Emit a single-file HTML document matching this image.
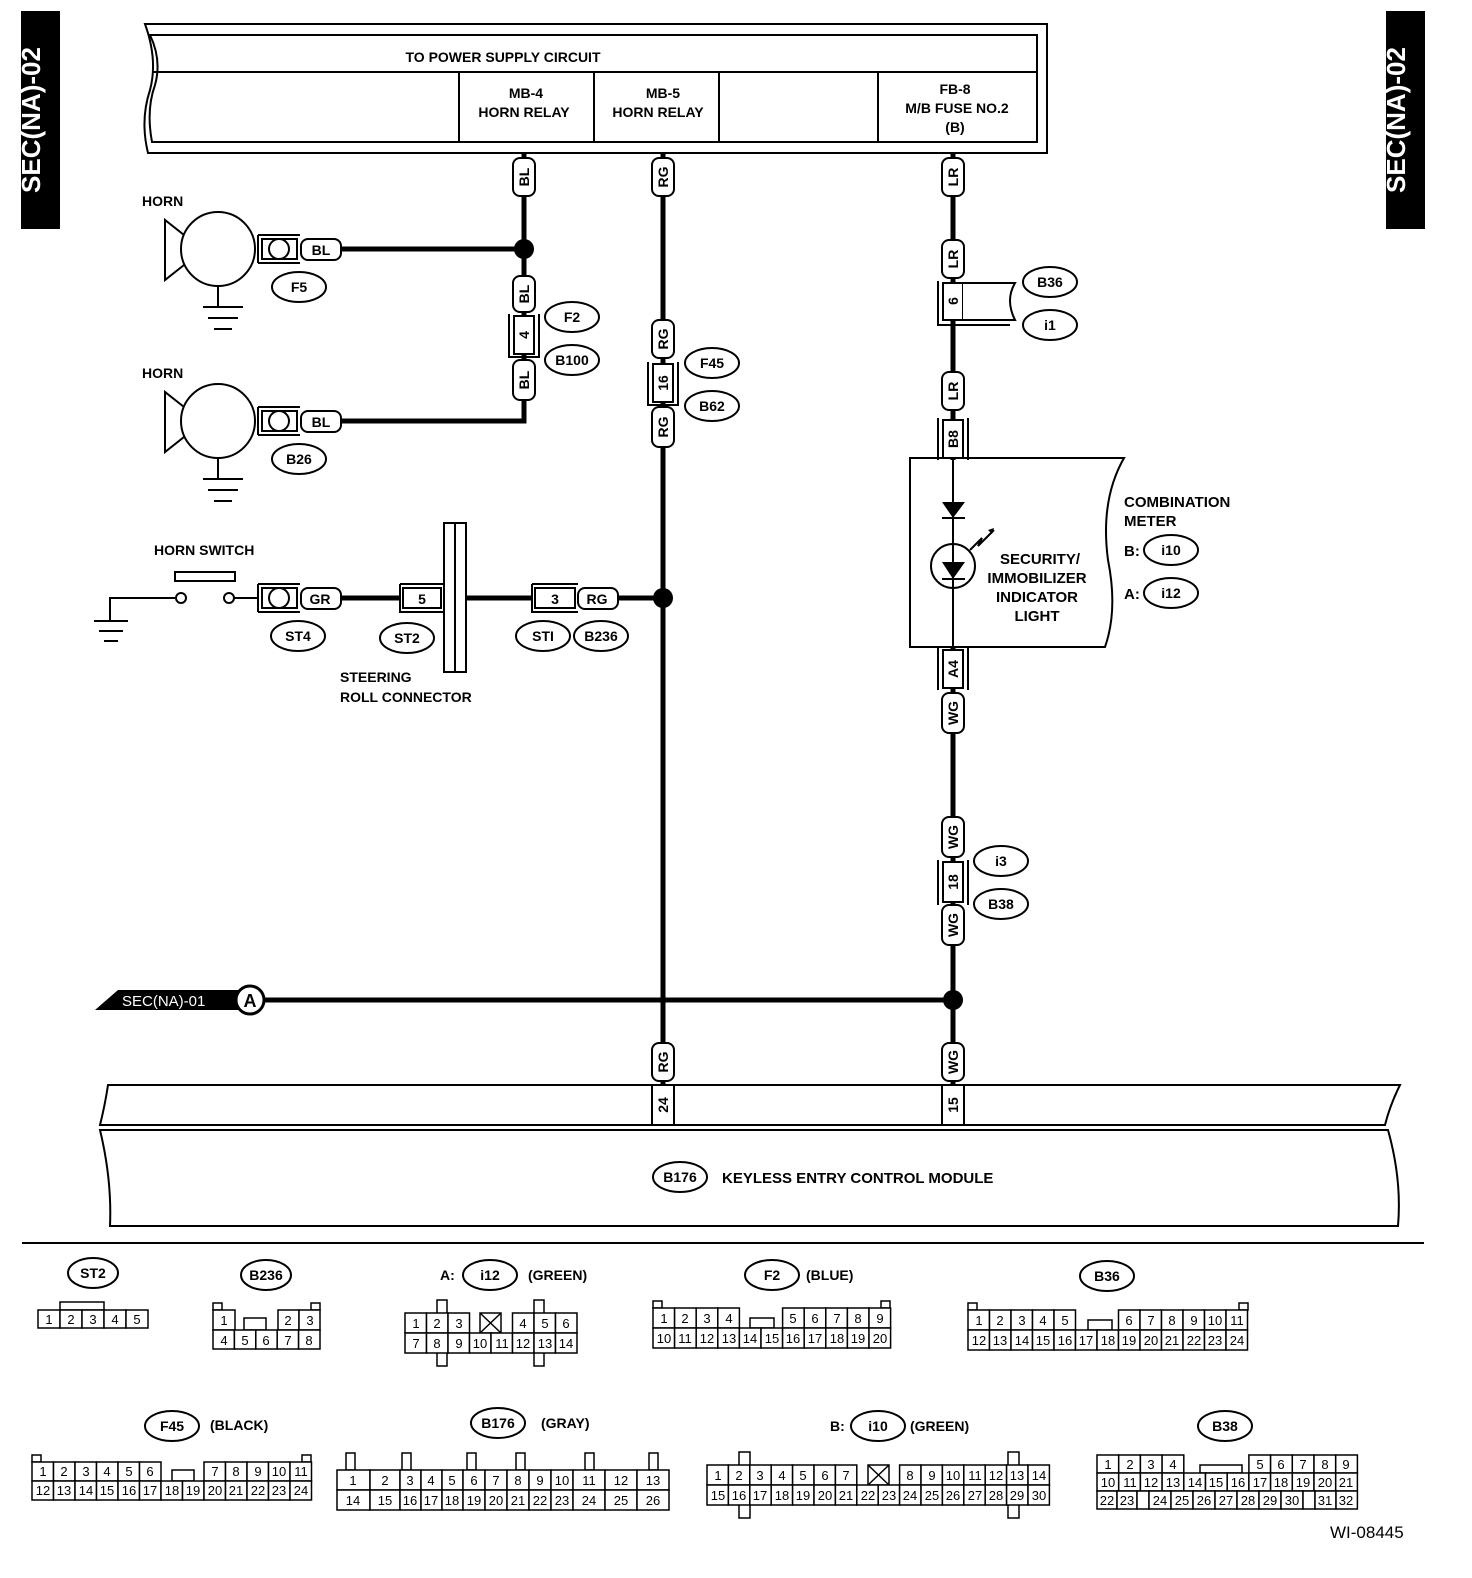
<!DOCTYPE html>
<html><head><meta charset="utf-8"><style>
html,body{margin:0;padding:0;background:#fff}
svg{display:block}
text{font-family:"Liberation Sans",sans-serif;font-weight:bold;fill:#000}
.n{font-weight:normal;font-size:13px;text-anchor:middle}
.c{text-anchor:middle}
</style></head><body>
<svg width="1472" height="1578" viewBox="0 0 1472 1578" xmlns="http://www.w3.org/2000/svg">
<g fill="none" stroke="#000" stroke-width="2">
<!-- side bars -->
<rect x="22" y="12" width="37" height="216" fill="#000"/>
<rect x="1387" y="12" width="37" height="216" fill="#000"/>
<!-- top box -->
<path d="M145,24 H1047 V153 H148 Q140,120 150,90 Q158,60 145,24 Z"/>
<path d="M150,35 H1037 V142 H152 Q146,110 155,85 Q162,60 150,35 Z"/>
<line x1="153" y1="72" x2="1037" y2="72"/>
<line x1="459" y1="72" x2="459" y2="142"/>
<line x1="594" y1="72" x2="594" y2="142"/>
<line x1="719" y1="72" x2="719" y2="142"/>
<line x1="878" y1="72" x2="878" y2="142"/>
</g>
<text x="40" y="120" font-size="26" transform="rotate(-90 40 120)" text-anchor="middle" style="fill:#fff">SEC(NA)-02</text>
<text x="1405" y="120" font-size="26" transform="rotate(-90 1405 120)" text-anchor="middle" style="fill:#fff">SEC(NA)-02</text>
<g font-size="14">
<text x="503" y="62" class="c">TO POWER SUPPLY CIRCUIT</text>
<text x="526" y="98" class="c">MB-4</text><text x="524" y="117" class="c">HORN RELAY</text>
<text x="663" y="98" class="c">MB-5</text><text x="658" y="117" class="c">HORN RELAY</text>
<text x="955" y="94" class="c">FB-8</text><text x="957" y="113" class="c">M/B FUSE NO.2</text><text x="955" y="132" class="c">(B)</text>
</g>

<!-- wires -->
<g stroke="#000" stroke-width="5" fill="none">
<line x1="524" y1="153" x2="524" y2="400"/>
<path d="M340,249 H524"/>
<path d="M340,421 H524 V395"/>
<line x1="663" y1="153" x2="663" y2="1085"/>
<line x1="953" y1="153" x2="953" y2="460"/>
<line x1="953" y1="647" x2="953" y2="1085"/>
<line x1="340" y1="598" x2="400" y2="598"/>
<line x1="466" y1="598" x2="532" y2="598"/>
<line x1="618" y1="598" x2="663" y2="598"/>
<line x1="240" y1="1000" x2="953" y2="1000"/>
</g>
<g fill="#000">
<circle cx="524" cy="249" r="10"/><circle cx="663" cy="598" r="10"/><circle cx="953" cy="1000" r="10"/>
</g>

<!-- vertical pills -->
<g fill="#fff" stroke="#000" stroke-width="2">
<rect x="513" y="158" width="22" height="38" rx="7"/>
<rect x="652" y="158" width="22" height="38" rx="7"/>
<rect x="942" y="158" width="22" height="38" rx="7"/>
<rect x="513" y="276" width="22" height="36" rx="7"/>
<rect x="513" y="360" width="22" height="40" rx="7"/>
<rect x="652" y="320" width="22" height="38" rx="7"/>
<rect x="652" y="407" width="22" height="40" rx="7"/>
<rect x="942" y="240" width="22" height="38" rx="7"/>
<rect x="942" y="372" width="22" height="38" rx="7"/>
<rect x="942" y="693" width="22" height="40" rx="7"/>
<rect x="942" y="817" width="22" height="40" rx="7"/>
<rect x="942" y="905" width="22" height="40" rx="7"/>
<rect x="652" y="1043" width="22" height="38" rx="7"/>
<rect x="942" y="1043" width="22" height="38" rx="7"/>
<!-- inline connectors -->
<path d="M509,314 V357 H539 V314" fill="none"/><rect x="514" y="316" width="20" height="38"/>
<path d="M648,362 V405 H678 V362" fill="none"/><rect x="653" y="364" width="20" height="38"/>
<path d="M938,281 V325 H1010" fill="none"/><rect x="943" y="283" width="20" height="37"/>
<path d="M963,283 H1015 Q1005,300 1015,320 H963"/>
<path d="M938,418 V460 M968,418 V460" fill="none"/><rect x="943" y="420" width="20" height="38"/>
<path d="M938,690 V647 M968,690 V647" fill="none"/><rect x="943" y="650" width="20" height="38"/>
<path d="M938,860 V905 M968,860 V905" fill="none"/><rect x="943" y="862" width="20" height="40"/>
</g>
<g font-size="14">
<text transform="translate(529,177) rotate(-90)" class="c">BL</text>
<text transform="translate(668,177) rotate(-90)" class="c">RG</text>
<text transform="translate(958,177) rotate(-90)" class="c">LR</text>
<text transform="translate(529,294) rotate(-90)" class="c">BL</text>
<text transform="translate(529,335) rotate(-90)" class="c">4</text>
<text transform="translate(529,380) rotate(-90)" class="c">BL</text>
<text transform="translate(668,339) rotate(-90)" class="c">RG</text>
<text transform="translate(668,383) rotate(-90)" class="c">16</text>
<text transform="translate(668,427) rotate(-90)" class="c">RG</text>
<text transform="translate(958,259) rotate(-90)" class="c">LR</text>
<text transform="translate(958,301) rotate(-90)" class="c">6</text>
<text transform="translate(958,391) rotate(-90)" class="c">LR</text>
<text transform="translate(958,439) rotate(-90)" class="c">B8</text>
<text transform="translate(958,669) rotate(-90)" class="c">A4</text>
<text transform="translate(958,713) rotate(-90)" class="c">WG</text>
<text transform="translate(958,837) rotate(-90)" class="c">WG</text>
<text transform="translate(958,882) rotate(-90)" class="c">18</text>
<text transform="translate(958,925) rotate(-90)" class="c">WG</text>
<text transform="translate(668,1062) rotate(-90)" class="c">RG</text>
<text transform="translate(958,1062) rotate(-90)" class="c">WG</text>
</g>

<!-- horns -->
<g fill="none" stroke="#000" stroke-width="2">
<circle cx="218" cy="249" r="37"/>
<path d="M184,235 L165,220 V280 L184,265"/>
<line x1="218" y1="286" x2="218" y2="306"/>
<line x1="203" y1="307" x2="243" y2="307"/><line x1="208" y1="318" x2="238" y2="318"/><line x1="214" y1="329" x2="232" y2="329"/>
<circle cx="218" cy="421" r="37"/>
<path d="M184,407 L165,392 V452 L184,437"/>
<line x1="218" y1="458" x2="218" y2="478"/>
<line x1="203" y1="479" x2="243" y2="479"/><line x1="208" y1="490" x2="238" y2="490"/><line x1="214" y1="501" x2="232" y2="501"/>
<!-- horn connectors -->
<path d="M258,235 H300 M258,263 H300 M258,235 V263"/><rect x="262" y="239" width="35" height="20"/><circle cx="279" cy="249" r="10"/>
<path d="M258,407 H300 M258,435 H300 M258,407 V435"/><rect x="262" y="411" width="35" height="20"/><circle cx="279" cy="421" r="10"/>
<rect x="301" y="239" width="40" height="21" rx="7" fill="#fff"/>
<rect x="301" y="411" width="40" height="21" rx="7" fill="#fff"/>
<!-- horn switch -->
<path d="M110,620 V598 H175"/>
<line x1="94" y1="621" x2="128" y2="621"/><line x1="99" y1="631" x2="123" y2="631"/><line x1="104" y1="641" x2="118" y2="641"/>
<circle cx="181" cy="598" r="5"/><circle cx="229" cy="598" r="5"/>
<rect x="175" y="572" width="60" height="9"/>
<line x1="234" y1="598" x2="258" y2="598"/>
<path d="M258,584 H300 M258,612 H300 M258,584 V612"/><rect x="262" y="588" width="35" height="20"/><circle cx="279" cy="598" r="10"/>
<rect x="301" y="588" width="40" height="21" rx="7" fill="#fff"/>
<path d="M400,584 V612 H444 M400,584 H444"/><rect x="403" y="588" width="38" height="20" fill="#fff"/>
<rect x="444" y="523" width="22" height="149" fill="#fff"/><line x1="455" y1="523" x2="455" y2="672"/>
<path d="M532,584 V612 H578 M532,584 H578"/><rect x="535" y="588" width="40" height="20" fill="#fff"/>
<rect x="578" y="588" width="40" height="21" rx="7" fill="#fff"/>
</g>
<g font-size="14">
<text x="142" y="206">HORN</text><text x="142" y="378">HORN</text><text x="154" y="555">HORN SWITCH</text>
<text x="321" y="255" class="c">BL</text><text x="321" y="427" class="c">BL</text>
<text x="320" y="604" class="c">GR</text><text x="422" y="604" class="c">5</text><text x="555" y="604" class="c">3</text><text x="597" y="604" class="c">RG</text>
<text x="340" y="682">STEERING</text><text x="340" y="702">ROLL CONNECTOR</text>
</g>

<!-- ellipses -->
<g fill="#fff" stroke="#000" stroke-width="2">
<ellipse cx="299" cy="287" rx="27" ry="15"/><ellipse cx="299" cy="459" rx="27" ry="15"/>
<ellipse cx="572" cy="317" rx="27" ry="15"/><ellipse cx="572" cy="360" rx="27" ry="15"/>
<ellipse cx="712" cy="363" rx="27" ry="15"/><ellipse cx="712" cy="406" rx="27" ry="15"/>
<ellipse cx="1050" cy="282" rx="27" ry="15"/><ellipse cx="1050" cy="325" rx="27" ry="15"/>
<ellipse cx="1001" cy="861" rx="27" ry="15"/><ellipse cx="1001" cy="904" rx="27" ry="15"/>
<ellipse cx="298" cy="636" rx="27" ry="15"/><ellipse cx="407" cy="638" rx="27" ry="15"/>
<ellipse cx="543" cy="636" rx="27" ry="15"/><ellipse cx="601" cy="636" rx="27" ry="15"/>
<ellipse cx="1171" cy="550" rx="27" ry="15"/><ellipse cx="1171" cy="593" rx="27" ry="15"/>
<ellipse cx="680" cy="1177" rx="27" ry="15"/>
</g>
<g font-size="14" class="c">
<text x="299" y="292" class="c">F5</text><text x="299" y="464" class="c">B26</text>
<text x="572" y="322" class="c">F2</text><text x="572" y="365" class="c">B100</text>
<text x="712" y="368" class="c">F45</text><text x="712" y="411" class="c">B62</text>
<text x="1050" y="287" class="c">B36</text><text x="1050" y="330" class="c">i1</text>
<text x="1001" y="866" class="c">i3</text><text x="1001" y="909" class="c">B38</text>
<text x="298" y="641" class="c">ST4</text><text x="407" y="643" class="c">ST2</text>
<text x="543" y="641" class="c">STI</text><text x="601" y="641" class="c">B236</text>
<text x="1171" y="555" class="c">i10</text><text x="1171" y="598" class="c">i12</text>
<text x="680" y="1182" class="c">B176</text>
</g>

<!-- combination meter -->
<g fill="none" stroke="#000" stroke-width="2">
<path d="M910,458 H1124 Q1100,500 1108,560 Q1118,610 1105,647 H910 Z"/>
<line x1="953" y1="458" x2="953" y2="647"/>
<line x1="942" y1="518" x2="965" y2="518"/>
<circle cx="953" cy="566" r="22"/>
<line x1="942" y1="579" x2="965" y2="579"/>
<path d="M970,550 L982,538 L978,546 L994,530"/>
</g>
<g fill="#000"><polygon points="942,502 965,502 953,518"/><polygon points="942,562 965,562 953,579"/><polygon points="994,528 988,530 992,534"/></g>
<g font-size="15">
<text x="1040" y="564" class="c">SECURITY/</text><text x="1037" y="583" class="c">IMMOBILIZER</text>
<text x="1037" y="602" class="c">INDICATOR</text><text x="1037" y="621" class="c">LIGHT</text>
<text x="1124" y="507">COMBINATION</text><text x="1124" y="526">METER</text>
<text x="1124" y="556">B:</text><text x="1124" y="599">A:</text>
</g>

<!-- SEC(NA)-01 -->
<polygon points="95,1010 118,990 240,990 240,1010" fill="#000"/>
<circle cx="250" cy="1000" r="14" fill="#fff" stroke="#000" stroke-width="3"/>
<text x="122" y="1006" font-size="15" style="fill:#fff;font-weight:normal">SEC(NA)-01</text>
<text x="250" y="1007" font-size="18" class="c">A</text>

<!-- module -->
<g fill="none" stroke="#000" stroke-width="2">
<path d="M108,1085 H1400 Q1390,1105 1385,1125 H100 Q105,1105 108,1085 Z"/>
<path d="M100,1130 H1388 Q1402,1180 1398,1226 H110 Q112,1180 100,1130 Z"/>
<rect x="652" y="1085" width="22" height="40" fill="#fff"/>
<rect x="942" y="1085" width="22" height="40" fill="#fff"/>
</g>
<text transform="translate(668,1105) rotate(-90)" class="c" font-size="14">24</text>
<text transform="translate(958,1105) rotate(-90)" class="c" font-size="14">15</text>
<text x="722" y="1183" font-size="15">KEYLESS ENTRY CONTROL MODULE</text>

<line x1="22" y1="1243" x2="1424" y2="1243" stroke="#000" stroke-width="2"/>

<!-- connector headers -->
<g fill="#fff" stroke="#000" stroke-width="2">
<ellipse cx="93" cy="1273" rx="25" ry="15"/><ellipse cx="266" cy="1275" rx="25" ry="15"/>
<ellipse cx="490" cy="1275" rx="27" ry="15"/><ellipse cx="772" cy="1275" rx="27" ry="15"/>
<ellipse cx="1107" cy="1276" rx="27" ry="15"/><ellipse cx="172" cy="1426" rx="27" ry="15"/>
<ellipse cx="498" cy="1423" rx="27" ry="15"/><ellipse cx="878" cy="1426" rx="27" ry="15"/>
<ellipse cx="1225" cy="1426" rx="27" ry="15"/>
</g>
<g font-size="14">
<text x="93" y="1278" class="c">ST2</text><text x="266" y="1280" class="c">B236</text>
<text x="440" y="1280">A:</text><text x="490" y="1280" class="c">i12</text><text x="528" y="1280">(GREEN)</text>
<text x="772" y="1280" class="c">F2</text><text x="806" y="1280">(BLUE)</text>
<text x="1107" y="1281" class="c">B36</text>
<text x="172" y="1431" class="c">F45</text><text x="210" y="1430">(BLACK)</text>
<text x="498" y="1428" class="c">B176</text><text x="541" y="1428">(GRAY)</text>
<text x="830" y="1431">B:</text><text x="878" y="1431" class="c">i10</text><text x="910" y="1431">(GREEN)</text>
<text x="1225" y="1431" class="c">B38</text>
</g>
<text x="1330" y="1538" font-size="17" style="font-weight:normal">WI-08445</text>

<!-- connector grids -->
<g fill="#fff" stroke="#000" stroke-width="1.5">
<!-- ST2 -->
<rect x="60" y="1302" width="44" height="8"/>
<rect x="38" y="1310" width="22" height="18"/><rect x="60" y="1310" width="22" height="18"/><rect x="82" y="1310" width="22" height="18"/><rect x="104" y="1310" width="22" height="18"/><rect x="126" y="1310" width="22" height="18"/>
<!-- B236 -->
<rect x="213" y="1303" width="9" height="7"/><rect x="311" y="1303" width="9" height="7"/><rect x="244" y="1318" width="22" height="12"/>
<rect x="213" y="1310" width="22" height="20"/><rect x="278" y="1310" width="21" height="20"/><rect x="299" y="1310" width="21" height="20"/>
<rect x="213" y="1330" width="21.4" height="19"/><rect x="234.4" y="1330" width="21.4" height="19"/><rect x="255.8" y="1330" width="21.4" height="19"/><rect x="277.2" y="1330" width="21.4" height="19"/><rect x="298.6" y="1330" width="21.4" height="19"/>
<!-- i12 -->
<rect x="437" y="1300" width="10" height="66"/><rect x="534" y="1300" width="10" height="66"/>
<rect x="405" y="1313" width="21.5" height="20"/><rect x="426.5" y="1313" width="21.5" height="20"/><rect x="448" y="1313" width="21.5" height="20"/>
<rect x="480" y="1313" width="21" height="20"/>
<rect x="512.5" y="1313" width="21.5" height="20"/><rect x="534" y="1313" width="21.5" height="20"/><rect x="555.5" y="1313" width="21.5" height="20"/>
<rect x="405" y="1333" width="21.5" height="20"/><rect x="426.5" y="1333" width="21.5" height="20"/><rect x="448" y="1333" width="21.5" height="20"/><rect x="469.5" y="1333" width="21.5" height="20"/><rect x="491" y="1333" width="21.5" height="20"/><rect x="512.5" y="1333" width="21.5" height="20"/><rect x="534" y="1333" width="21.5" height="20"/><rect x="555.5" y="1333" width="21.5" height="20"/>
<!-- F2 -->
<rect x="653" y="1301" width="9" height="7"/><rect x="881" y="1301" width="9" height="7"/><rect x="750" y="1318" width="24" height="10"/>
<rect x="653" y="1308" width="21.6" height="20"/><rect x="674.6" y="1308" width="21.6" height="20"/><rect x="696.2" y="1308" width="21.6" height="20"/><rect x="717.8" y="1308" width="21.6" height="20"/>
<rect x="782.6" y="1308" width="21.6" height="20"/><rect x="804.2" y="1308" width="21.6" height="20"/><rect x="825.8" y="1308" width="21.6" height="20"/><rect x="847.4" y="1308" width="21.6" height="20"/><rect x="869" y="1308" width="21.6" height="20"/>
<rect x="653" y="1328" width="21.6" height="20"/><rect x="674.6" y="1328" width="21.6" height="20"/><rect x="696.2" y="1328" width="21.6" height="20"/><rect x="717.8" y="1328" width="21.6" height="20"/><rect x="739.4" y="1328" width="21.6" height="20"/><rect x="761" y="1328" width="21.6" height="20"/><rect x="782.6" y="1328" width="21.6" height="20"/><rect x="804.2" y="1328" width="21.6" height="20"/><rect x="825.8" y="1328" width="21.6" height="20"/><rect x="847.4" y="1328" width="21.6" height="20"/><rect x="869" y="1328" width="21.6" height="20"/>
<!-- B36 -->
<rect x="968" y="1303" width="9" height="7"/><rect x="1239" y="1303" width="9" height="7"/><rect x="1088" y="1320" width="24" height="10"/>
<rect x="968" y="1310" width="21.5" height="20"/><rect x="989.5" y="1310" width="21.5" height="20"/><rect x="1011" y="1310" width="21.5" height="20"/><rect x="1032.5" y="1310" width="21.5" height="20"/><rect x="1054" y="1310" width="21.5" height="20"/>
<rect x="1118.5" y="1310" width="21.5" height="20"/><rect x="1140" y="1310" width="21.5" height="20"/><rect x="1161.5" y="1310" width="21.5" height="20"/><rect x="1183" y="1310" width="21.5" height="20"/><rect x="1204.5" y="1310" width="21.5" height="20"/><rect x="1226" y="1310" width="21.5" height="20"/>
<rect x="968" y="1330" width="21.5" height="20"/><rect x="989.5" y="1330" width="21.5" height="20"/><rect x="1011" y="1330" width="21.5" height="20"/><rect x="1032.5" y="1330" width="21.5" height="20"/><rect x="1054" y="1330" width="21.5" height="20"/><rect x="1075.5" y="1330" width="21.5" height="20"/><rect x="1097" y="1330" width="21.5" height="20"/><rect x="1118.5" y="1330" width="21.5" height="20"/><rect x="1140" y="1330" width="21.5" height="20"/><rect x="1161.5" y="1330" width="21.5" height="20"/><rect x="1183" y="1330" width="21.5" height="20"/><rect x="1204.5" y="1330" width="21.5" height="20"/><rect x="1226" y="1330" width="21.5" height="20"/>
<!-- F45 -->
<rect x="32" y="1455" width="9" height="7"/><rect x="302" y="1455" width="9" height="7"/><rect x="172" y="1470" width="22" height="11"/>
<rect x="32" y="1462" width="21.5" height="19"/><rect x="53.5" y="1462" width="21.5" height="19"/><rect x="75" y="1462" width="21.5" height="19"/><rect x="96.5" y="1462" width="21.5" height="19"/><rect x="118" y="1462" width="21.5" height="19"/><rect x="139.5" y="1462" width="21.5" height="19"/>
<rect x="204" y="1462" width="21.5" height="19"/><rect x="225.5" y="1462" width="21.5" height="19"/><rect x="247" y="1462" width="21.5" height="19"/><rect x="268.5" y="1462" width="21.5" height="19"/><rect x="290" y="1462" width="21.5" height="19"/>
<rect x="32" y="1481" width="21.5" height="19"/><rect x="53.5" y="1481" width="21.5" height="19"/><rect x="75" y="1481" width="21.5" height="19"/><rect x="96.5" y="1481" width="21.5" height="19"/><rect x="118" y="1481" width="21.5" height="19"/><rect x="139.5" y="1481" width="21.5" height="19"/><rect x="161" y="1481" width="21.5" height="19"/><rect x="182.5" y="1481" width="21.5" height="19"/><rect x="204" y="1481" width="21.5" height="19"/><rect x="225.5" y="1481" width="21.5" height="19"/><rect x="247" y="1481" width="21.5" height="19"/><rect x="268.5" y="1481" width="21.5" height="19"/><rect x="290" y="1481" width="21.5" height="19"/>
<!-- B176 -->
<rect x="346" y="1453" width="9" height="17"/><rect x="402" y="1453" width="9" height="17"/><rect x="467" y="1453" width="9" height="17"/><rect x="516" y="1453" width="9" height="17"/><rect x="585" y="1453" width="9" height="17"/><rect x="649" y="1453" width="9" height="17"/>
<rect x="337" y="1470" width="33" height="20"/><rect x="370" y="1470" width="30" height="20"/><rect x="400" y="1470" width="21" height="20"/><rect x="421" y="1470" width="21" height="20"/><rect x="442" y="1470" width="21" height="20"/><rect x="463" y="1470" width="22" height="20"/><rect x="485" y="1470" width="22" height="20"/><rect x="507" y="1470" width="22" height="20"/><rect x="529" y="1470" width="22" height="20"/><rect x="551" y="1470" width="22" height="20"/><rect x="573" y="1470" width="32" height="20"/><rect x="605" y="1470" width="32" height="20"/><rect x="637" y="1470" width="32" height="20"/>
<rect x="337" y="1490" width="33" height="20"/><rect x="370" y="1490" width="30" height="20"/><rect x="400" y="1490" width="21" height="20"/><rect x="421" y="1490" width="21" height="20"/><rect x="442" y="1490" width="21" height="20"/><rect x="463" y="1490" width="22" height="20"/><rect x="485" y="1490" width="22" height="20"/><rect x="507" y="1490" width="22" height="20"/><rect x="529" y="1490" width="22" height="20"/><rect x="551" y="1490" width="22" height="20"/><rect x="573" y="1490" width="32" height="20"/><rect x="605" y="1490" width="32" height="20"/><rect x="637" y="1490" width="32" height="20"/>
<!-- i10 -->
<rect x="739" y="1452" width="11" height="66"/><rect x="1008" y="1452" width="11" height="66"/>
<rect x="707" y="1465" width="21.4" height="20"/><rect x="728.4" y="1465" width="21.4" height="20"/><rect x="749.8" y="1465" width="21.4" height="20"/><rect x="771.2" y="1465" width="21.4" height="20"/><rect x="792.6" y="1465" width="21.4" height="20"/><rect x="814" y="1465" width="21.4" height="20"/><rect x="835.4" y="1465" width="21.4" height="20"/>
<rect x="868" y="1465" width="21" height="20"/>
<rect x="899.6" y="1465" width="21.4" height="20"/><rect x="921" y="1465" width="21.4" height="20"/><rect x="942.4" y="1465" width="21.4" height="20"/><rect x="963.8" y="1465" width="21.4" height="20"/><rect x="985.2" y="1465" width="21.4" height="20"/><rect x="1006.6" y="1465" width="21.4" height="20"/><rect x="1028" y="1465" width="21.4" height="20"/>
<rect x="707" y="1485" width="21.4" height="20"/><rect x="728.4" y="1485" width="21.4" height="20"/><rect x="749.8" y="1485" width="21.4" height="20"/><rect x="771.2" y="1485" width="21.4" height="20"/><rect x="792.6" y="1485" width="21.4" height="20"/><rect x="814" y="1485" width="21.4" height="20"/><rect x="835.4" y="1485" width="21.4" height="20"/><rect x="856.8" y="1485" width="21.4" height="20"/><rect x="878.2" y="1485" width="21.4" height="20"/><rect x="899.6" y="1485" width="21.4" height="20"/><rect x="921" y="1485" width="21.4" height="20"/><rect x="942.4" y="1485" width="21.4" height="20"/><rect x="963.8" y="1485" width="21.4" height="20"/><rect x="985.2" y="1485" width="21.4" height="20"/><rect x="1006.6" y="1485" width="21.4" height="20"/><rect x="1028" y="1485" width="21.4" height="20"/>
<!-- B38 -->
<rect x="1200" y="1465" width="42" height="8"/>
<rect x="1097" y="1455" width="21.7" height="18"/><rect x="1118.7" y="1455" width="21.7" height="18"/><rect x="1140.4" y="1455" width="21.7" height="18"/><rect x="1162.1" y="1455" width="21.7" height="18"/>
<rect x="1248.9" y="1455" width="21.7" height="18"/><rect x="1270.6" y="1455" width="21.7" height="18"/><rect x="1292.3" y="1455" width="21.7" height="18"/><rect x="1314" y="1455" width="21.7" height="18"/><rect x="1335.7" y="1455" width="21.7" height="18"/>
<rect x="1097" y="1473" width="21.7" height="18"/><rect x="1118.7" y="1473" width="21.7" height="18"/><rect x="1140.4" y="1473" width="21.7" height="18"/><rect x="1162.1" y="1473" width="21.7" height="18"/><rect x="1183.8" y="1473" width="21.7" height="18"/><rect x="1205.5" y="1473" width="21.7" height="18"/><rect x="1227.2" y="1473" width="21.7" height="18"/><rect x="1248.9" y="1473" width="21.7" height="18"/><rect x="1270.6" y="1473" width="21.7" height="18"/><rect x="1292.3" y="1473" width="21.7" height="18"/><rect x="1314" y="1473" width="21.7" height="18"/><rect x="1335.7" y="1473" width="21.7" height="18"/>
<rect x="1097" y="1491" width="20" height="18"/><rect x="1117" y="1491" width="20" height="18"/><rect x="1137" y="1491" width="12" height="18"/><rect x="1149" y="1491" width="22" height="18"/><rect x="1171" y="1491" width="22" height="18"/><rect x="1193" y="1491" width="22" height="18"/><rect x="1215" y="1491" width="22" height="18"/><rect x="1237" y="1491" width="22" height="18"/><rect x="1259" y="1491" width="22" height="18"/><rect x="1281" y="1491" width="22" height="18"/><rect x="1303" y="1491" width="12" height="18"/><rect x="1315" y="1491" width="21" height="18"/><rect x="1336" y="1491" width="21.4" height="18"/>
</g>
<g stroke="#000" stroke-width="1.5"><path d="M480,1313 L501,1333 M501,1313 L480,1333 M868,1465 L889,1485 M889,1465 L868,1485"/></g>
<g class="n">
<text x="49" y="1324" class="n">1</text><text x="71" y="1324" class="n">2</text><text x="93" y="1324" class="n">3</text><text x="115" y="1324" class="n">4</text><text x="137" y="1324" class="n">5</text>
<text x="224" y="1325" class="n">1</text><text x="288" y="1325" class="n">2</text><text x="310" y="1325" class="n">3</text>
<text x="224" y="1345" class="n">4</text><text x="245" y="1345" class="n">5</text><text x="266" y="1345" class="n">6</text><text x="288" y="1345" class="n">7</text><text x="309" y="1345" class="n">8</text>
<text x="416" y="1328" class="n">1</text><text x="437" y="1328" class="n">2</text><text x="459" y="1328" class="n">3</text><text x="523" y="1328" class="n">4</text><text x="545" y="1328" class="n">5</text><text x="566" y="1328" class="n">6</text>
<text x="416" y="1348" class="n">7</text><text x="437" y="1348" class="n">8</text><text x="459" y="1348" class="n">9</text><text x="480" y="1348" class="n">10</text><text x="502" y="1348" class="n">11</text><text x="523" y="1348" class="n">12</text><text x="545" y="1348" class="n">13</text><text x="566" y="1348" class="n">14</text>
<text x="664" y="1323" class="n">1</text><text x="685" y="1323" class="n">2</text><text x="707" y="1323" class="n">3</text><text x="729" y="1323" class="n">4</text><text x="793" y="1323" class="n">5</text><text x="815" y="1323" class="n">6</text><text x="837" y="1323" class="n">7</text><text x="858" y="1323" class="n">8</text><text x="880" y="1323" class="n">9</text>
<text x="664" y="1343" class="n">10</text><text x="685" y="1343" class="n">11</text><text x="707" y="1343" class="n">12</text><text x="729" y="1343" class="n">13</text><text x="750" y="1343" class="n">14</text><text x="772" y="1343" class="n">15</text><text x="793" y="1343" class="n">16</text><text x="815" y="1343" class="n">17</text><text x="837" y="1343" class="n">18</text><text x="858" y="1343" class="n">19</text><text x="880" y="1343" class="n">20</text>
<text x="979" y="1325" class="n">1</text><text x="1000" y="1325" class="n">2</text><text x="1022" y="1325" class="n">3</text><text x="1043" y="1325" class="n">4</text><text x="1065" y="1325" class="n">5</text><text x="1129" y="1325" class="n">6</text><text x="1151" y="1325" class="n">7</text><text x="1172" y="1325" class="n">8</text><text x="1194" y="1325" class="n">9</text><text x="1215" y="1325" class="n">10</text><text x="1237" y="1325" class="n">11</text>
<text x="979" y="1345" class="n">12</text><text x="1000" y="1345" class="n">13</text><text x="1022" y="1345" class="n">14</text><text x="1043" y="1345" class="n">15</text><text x="1065" y="1345" class="n">16</text><text x="1086" y="1345" class="n">17</text><text x="1108" y="1345" class="n">18</text><text x="1129" y="1345" class="n">19</text><text x="1151" y="1345" class="n">20</text><text x="1172" y="1345" class="n">21</text><text x="1194" y="1345" class="n">22</text><text x="1215" y="1345" class="n">23</text><text x="1237" y="1345" class="n">24</text>
<text x="43" y="1476" class="n">1</text><text x="64" y="1476" class="n">2</text><text x="86" y="1476" class="n">3</text><text x="107" y="1476" class="n">4</text><text x="129" y="1476" class="n">5</text><text x="150" y="1476" class="n">6</text><text x="215" y="1476" class="n">7</text><text x="236" y="1476" class="n">8</text><text x="258" y="1476" class="n">9</text><text x="279" y="1476" class="n">10</text><text x="301" y="1476" class="n">11</text>
<text x="43" y="1495" class="n">12</text><text x="64" y="1495" class="n">13</text><text x="86" y="1495" class="n">14</text><text x="107" y="1495" class="n">15</text><text x="129" y="1495" class="n">16</text><text x="150" y="1495" class="n">17</text><text x="172" y="1495" class="n">18</text><text x="193" y="1495" class="n">19</text><text x="215" y="1495" class="n">20</text><text x="236" y="1495" class="n">21</text><text x="258" y="1495" class="n">22</text><text x="279" y="1495" class="n">23</text><text x="301" y="1495" class="n">24</text>
<text x="353" y="1485" class="n">1</text><text x="385" y="1485" class="n">2</text><text x="410" y="1485" class="n">3</text><text x="431" y="1485" class="n">4</text><text x="452" y="1485" class="n">5</text><text x="474" y="1485" class="n">6</text><text x="496" y="1485" class="n">7</text><text x="518" y="1485" class="n">8</text><text x="540" y="1485" class="n">9</text><text x="562" y="1485" class="n">10</text><text x="589" y="1485" class="n">11</text><text x="621" y="1485" class="n">12</text><text x="653" y="1485" class="n">13</text>
<text x="353" y="1505" class="n">14</text><text x="385" y="1505" class="n">15</text><text x="410" y="1505" class="n">16</text><text x="431" y="1505" class="n">17</text><text x="452" y="1505" class="n">18</text><text x="474" y="1505" class="n">19</text><text x="496" y="1505" class="n">20</text><text x="518" y="1505" class="n">21</text><text x="540" y="1505" class="n">22</text><text x="562" y="1505" class="n">23</text><text x="589" y="1505" class="n">24</text><text x="621" y="1505" class="n">25</text><text x="653" y="1505" class="n">26</text>
<text x="718" y="1480" class="n">1</text><text x="739" y="1480" class="n">2</text><text x="760" y="1480" class="n">3</text><text x="782" y="1480" class="n">4</text><text x="803" y="1480" class="n">5</text><text x="825" y="1480" class="n">6</text><text x="846" y="1480" class="n">7</text><text x="910" y="1480" class="n">8</text><text x="932" y="1480" class="n">9</text><text x="953" y="1480" class="n">10</text><text x="975" y="1480" class="n">11</text><text x="996" y="1480" class="n">12</text><text x="1017" y="1480" class="n">13</text><text x="1039" y="1480" class="n">14</text>
<text x="718" y="1500" class="n">15</text><text x="739" y="1500" class="n">16</text><text x="760" y="1500" class="n">17</text><text x="782" y="1500" class="n">18</text><text x="803" y="1500" class="n">19</text><text x="825" y="1500" class="n">20</text><text x="846" y="1500" class="n">21</text><text x="868" y="1500" class="n">22</text><text x="889" y="1500" class="n">23</text><text x="910" y="1500" class="n">24</text><text x="932" y="1500" class="n">25</text><text x="953" y="1500" class="n">26</text><text x="975" y="1500" class="n">27</text><text x="996" y="1500" class="n">28</text><text x="1017" y="1500" class="n">29</text><text x="1039" y="1500" class="n">30</text>
<text x="1108" y="1469" class="n">1</text><text x="1130" y="1469" class="n">2</text><text x="1151" y="1469" class="n">3</text><text x="1173" y="1469" class="n">4</text><text x="1260" y="1469" class="n">5</text><text x="1281" y="1469" class="n">6</text><text x="1303" y="1469" class="n">7</text><text x="1325" y="1469" class="n">8</text><text x="1346" y="1469" class="n">9</text>
<text x="1108" y="1487" class="n">10</text><text x="1130" y="1487" class="n">11</text><text x="1151" y="1487" class="n">12</text><text x="1173" y="1487" class="n">13</text><text x="1195" y="1487" class="n">14</text><text x="1216" y="1487" class="n">15</text><text x="1238" y="1487" class="n">16</text><text x="1260" y="1487" class="n">17</text><text x="1281" y="1487" class="n">18</text><text x="1303" y="1487" class="n">19</text><text x="1325" y="1487" class="n">20</text><text x="1346" y="1487" class="n">21</text>
<text x="1107" y="1505" class="n">22</text><text x="1127" y="1505" class="n">23</text><text x="1160" y="1505" class="n">24</text><text x="1182" y="1505" class="n">25</text><text x="1204" y="1505" class="n">26</text><text x="1226" y="1505" class="n">27</text><text x="1248" y="1505" class="n">28</text><text x="1270" y="1505" class="n">29</text><text x="1292" y="1505" class="n">30</text><text x="1325" y="1505" class="n">31</text><text x="1346" y="1505" class="n">32</text>
</g>
</svg>
</body></html>
